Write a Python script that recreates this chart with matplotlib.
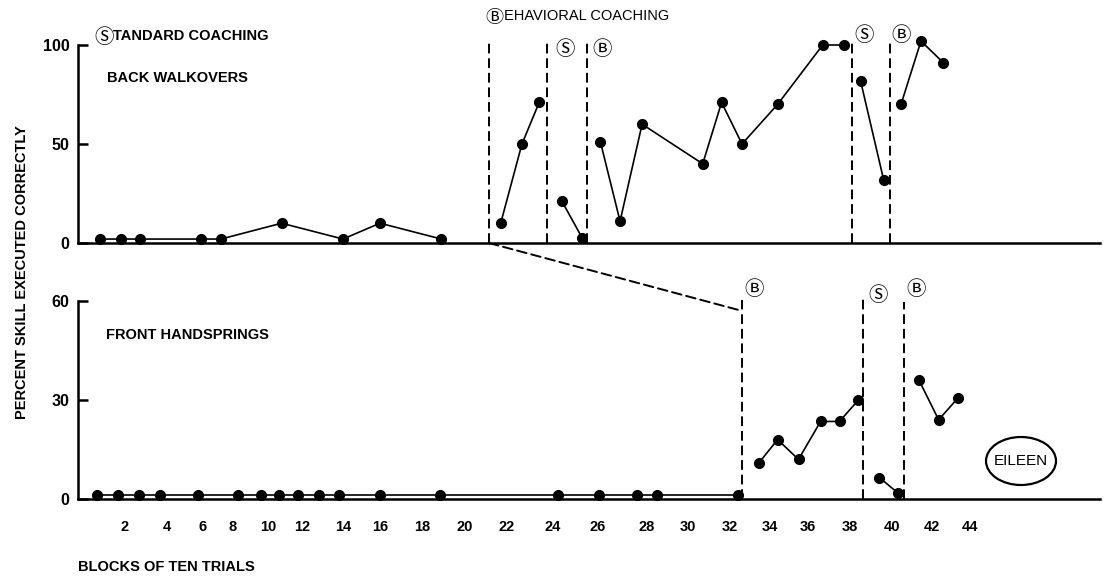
import numpy as np
import matplotlib
matplotlib.use("Agg")
import matplotlib.pyplot as plt
from matplotlib.patches import ConnectionPatch, Ellipse

plt.rcParams['font.family'] = ['Liberation Sans', 'Noto Sans CJK JP', 'DejaVu Sans']

# x axis: blocks of ten trials, hand-drawn labels are not evenly spaced
tick_blocks = [2, 4, 6, 8, 10, 12, 14, 16, 18, 20, 22, 24, 26, 28, 30, 32, 34, 36, 38, 40, 42, 44]
tick_labels = [str(b) for b in tick_blocks]
tick_px = [125, 167, 203, 233, 268, 302, 343, 380, 422, 465, 507, 553,
           598, 647, 688, 730, 770, 808, 850, 892, 932, 970]

# back walkovers (S = standard coaching, B = behavioral coaching)
bw_s1_x = [0.8, 1.8, 2.7, 5.9, 7.2, 10.8, 14.0, 16.0, 18.9]
bw_s1_y = [2, 2, 2, 2, 2, 10, 2, 10, 2]
bw_b1_x = [21.7, 22.65, 23.4]
bw_b1_y = [10, 50, 71]
bw_s2_x = [24.4, 25.3]
bw_s2_y = [21, 2.5]
bw_b2_x = [26.1, 26.9, 27.8, 30.7, 31.6, 32.6, 34.4, 36.7, 37.7]
bw_b2_y = [51, 11, 60, 40, 71, 50, 70, 100, 100]
bw_s3_x = [38.5, 39.6]
bw_s3_y = [82, 32]
bw_b3_x = [40.45, 41.45, 42.6]
bw_b3_y = [70, 102, 91]
bw_phase_x = [21.14, 23.75, 25.5, 38.1, 39.9]
bw_phase_top = [101, 101, 101, 101, 101]

# front handsprings
fh_s1_x = [0.67, 1.67, 2.67, 3.67, 5.7, 8.3, 9.6, 10.65, 11.75, 12.85, 13.8,
           16.0, 18.85, 24.2, 26.05, 27.6, 28.5, 32.4]
fh_s1_y = [1.2, 1.2, 1.2, 1.2, 1.2, 1.2, 1.2, 1.2, 1.2, 1.2, 1.2,
           1.2, 1.2, 1.2, 1.2, 1.2, 1.2, 1.2]
fh_b1_x = [33.45, 34.4, 35.5, 36.6, 37.5, 38.4]
fh_b1_y = [11, 18, 12, 23.5, 23.5, 30]
fh_s2_x = [39.4, 40.3]
fh_s2_y = [6.5, 1.8]
fh_b2_x = [41.35, 42.35, 43.35]
fh_b2_y = [36, 24, 30.5]
fh_phase_x = [32.6, 38.6, 40.6]
fh_phase_top = [60.3, 61, 59.7]

W, H = 1108, 578
fig = plt.figure(figsize=(W / 100, H / 100), dpi=100)


def px(x, y):
    return x / W, 1 - y / H


anchor_b = np.array([-2] + tick_blocks + [56], dtype=float)
anchor_p = np.array([41] + tick_px + [1204], dtype=float)


def fwd(b):
    return np.interp(b, anchor_b, anchor_p)


def inv(p):
    return np.interp(p, anchor_p, anchor_b)


x0, x1 = 78, 1100
# top panel: 0 at y=243, 100 at y=45 ; bottom: 0 at y=499, 60 at y=301
top_k = (243 - 45) / 100
bot_k = (499 - 301) / 60
ax1 = fig.add_axes([x0 / W, 1 - 243 / H, (x1 - x0) / W, 112 * top_k / H])
ax2 = fig.add_axes([x0 / W, 1 - 499 / H, (x1 - x0) / W, 66 * bot_k / H])

line_kw = dict(color='black', lw=1.2, marker='o', ms=7, clip_on=False, zorder=3)
dash = (0, (5, 2.5))

for ax in (ax1, ax2):
    ax.set_xscale('function', functions=(fwd, inv))
    ax.set_xlim(inv(x0), inv(x1))
    for s in ('top', 'right'):
        ax.spines[s].set_visible(False)
    for s in ('left', 'bottom'):
        ax.spines[s].set_linewidth(1.8)
    ax.patch.set_visible(False)

ax1.set_ylim(0, 112)
ax1.spines['left'].set_bounds(0, 100)
ax1.set_yticks([0, 50, 100])
ax1.set_yticklabels(['0', '50', '100'], fontsize=11.5, fontweight='bold')
ax1.tick_params(axis='y', direction='in', length=7, width=1.8, pad=6)
ax1.set_xticks([])

for xs, ys in [(bw_s1_x, bw_s1_y), (bw_b1_x, bw_b1_y), (bw_s2_x, bw_s2_y),
               (bw_b2_x, bw_b2_y), (bw_s3_x, bw_s3_y), (bw_b3_x, bw_b3_y)]:
    ax1.plot(xs, ys, **line_kw)
for xv, top in zip(bw_phase_x, bw_phase_top):
    ax1.plot([xv, xv], [0, top], color='black', lw=1.4, ls=dash, clip_on=False)

ax2.set_ylim(0, 66)
ax2.spines['left'].set_bounds(0, 60)
ax2.set_yticks([0, 30, 60])
ax2.set_yticklabels(['0', '30', '60'], fontsize=11.5, fontweight='bold')
ax2.tick_params(axis='y', direction='in', length=7, width=1.8, pad=6)
ax2.set_xticks(tick_blocks)
ax2.set_xticklabels(tick_labels, fontsize=10.5, fontweight='bold')
ax2.tick_params(axis='x', length=0, pad=15)

for xs, ys in [(fh_s1_x, fh_s1_y), (fh_b1_x, fh_b1_y), (fh_s2_x, fh_s2_y), (fh_b2_x, fh_b2_y)]:
    ax2.plot(xs, ys, **line_kw)
for xv, top in zip(fh_phase_x, fh_phase_top):
    ax2.plot([xv, xv], [0, top], color='black', lw=1.4, ls=dash, clip_on=False)

con = ConnectionPatch(xyA=(bw_phase_x[0], 0), coordsA=ax1.transData,
                      xyB=(fh_phase_x[0], 57), coordsB=ax2.transData,
                      color='black', lw=1.4, ls=dash)
fig.add_artist(con)

txt = dict(fontsize=10.5, fontweight='bold', va='center', ha='left')
circ = dict(fontsize=14, ha='center', va='center')
# headings: circled initial drawn a bit larger than the rest of the word
# (the CJK glyph sits high in its box, hence the +3 px)
fig.text(*px(104, 38), '\u24c8', **circ)
fig.text(*px(113, 36), 'TANDARD COACHING', **txt)
fig.text(*px(494, 18), '\u24b7', fontsize=13, ha='center', va='center')
fig.text(*px(504, 16), 'EHAVIORAL COACHING', fontsize=10.5, va='center', ha='left')
fig.text(*px(107, 78), 'BACK WALKOVERS', **txt)
fig.text(*px(106, 335), 'FRONT HANDSPRINGS', **txt)
fig.text(*px(78, 567), 'BLOCKS OF TEN TRIALS', **txt)
fig.text(*px(22, 272), 'PERCENT SKILL EXECUTED CORRECTLY', rotation=90,
         fontsize=10.5, fontweight='bold', ha='center', va='center')

for (x, y, s) in [(565, 50, '\u24c8'), (602, 50, '\u24b7'), (864, 36, '\u24c8'), (901, 36, '\u24b7'),
                  (754, 290, '\u24b7'), (878, 296, '\u24c8'), (916, 290, '\u24b7')]:
    fig.text(*px(x, y), s, **circ)

fig.add_artist(Ellipse(px(1021, 461), 70 / W, 48 / H, transform=fig.transFigure,
                       fill=False, lw=1.6, color='black'))
fig.text(*px(1021, 461), 'EILEEN', fontsize=11, ha='center', va='center')

fig.savefig('out.png', dpi=100)
